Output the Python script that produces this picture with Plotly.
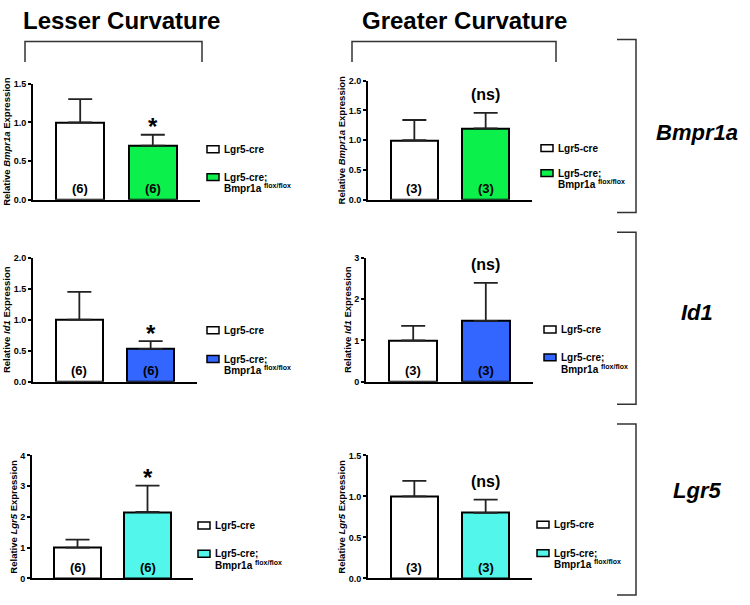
import plotly.graph_objects as go

W, H = 750, 605
FONT = "Liberation Sans, Arial, Helvetica, sans-serif"

# ---------------- data ----------------
groups = ["Lgr5-cre", "Lgr5-cre; Bmpr1a flox/flox"]
legend_line1 = ["Lgr5-cre", "Lgr5-cre;"]
legend_line2 = ["", "Bmpr1a <sup>flox/flox</sup>"]
regions = ["Lesser Curvature", "Greater Curvature"]
genes = ["Bmpr1a", "Id1", "Lgr5"]

bmpr1a_lesser_mean = [1.00, 0.70]
bmpr1a_lesser_err = [0.30, 0.14]
bmpr1a_greater_mean = [1.00, 1.20]
bmpr1a_greater_err = [0.34, 0.26]

id1_lesser_mean = [1.00, 0.53]
id1_lesser_err = [0.45, 0.125]
id1_greater_mean = [1.00, 1.47]
id1_greater_err = [0.35, 0.92]

lgr5_lesser_mean = [1.00, 2.16]
lgr5_lesser_err = [0.26, 0.86]
lgr5_greater_mean = [1.00, 0.80]
lgr5_greater_err = [0.19, 0.16]

n_lesser = ["(6)", "(6)"]
n_greater = ["(3)", "(3)"]
sig_lesser = ["*", "*", "*"]
sig_greater = ["(ns)", "(ns)", "(ns)"]

# ---------------- styling ----------------
mutant_colors = ["#0CF04C", "#3366FF", "#52F6EA"]
ctrl_color = "#FFFFFF"


def px_x(p):
    return p / W


def px_y(p):
    return 1 - p / H


# per panel: gene index, region index, means, errs, n labels, sig label,
# pixel box (x0, x1, ytop, ybot), y max, dtick, tickformat,
# legend key (box left, row-1 centre, row-2 centre) in px
panels = [
    (0, 0, bmpr1a_lesser_mean, bmpr1a_lesser_err, n_lesser, sig_lesser[0],
     (33, 200, 80, 198), 1.5, 0.5, ".1f", (207, 146.7, 175)),
    (0, 1, bmpr1a_greater_mean, bmpr1a_greater_err, n_greater, sig_greater[0],
     (368, 532, 77, 198), 2.0, 0.5, ".1f", (541, 145.5, 171)),
    (1, 0, id1_lesser_mean, id1_lesser_err, n_lesser, sig_lesser[1],
     (33, 197, 257, 383), 2.0, 0.5, ".1f", (207, 330.7, 360)),
    (1, 1, id1_greater_mean, id1_greater_err, n_greater, sig_greater[1],
     (366, 533, 257, 383), 3.0, 1, "d", (544, 330, 358.3)),
    (2, 0, lgr5_lesser_mean, lgr5_lesser_err, n_lesser, sig_lesser[2],
     (32, 193, 458, 583), 4.0, 1, "d", (198, 529.3, 558)),
    (2, 1, lgr5_greater_mean, lgr5_greater_err, n_greater, sig_greater[2],
     (368, 532, 458, 583), 1.5, 0.5, ".1f", (537, 528.4, 557.3)),
]

fig = go.Figure()
annotations = []
shapes = []
layout_axes = {}

for k, (gi, ri, means, errs, nlab, sig, box, ymax, dtick, tfmt, leg) in enumerate(panels, start=1):
    sfx = "" if k == 1 else str(k)
    xa, ya = "x" + sfx, "y" + sfx
    colors = [ctrl_color, mutant_colors[gi]]
    for j in range(2):
        fig.add_trace(go.Bar(
            x=[groups[j]], y=[means[j]],
            name=groups[j],
            width=0.66,
            textposition="none",
            marker=dict(color=colors[j], line=dict(color="#000000", width=2)),
            error_y=dict(type="data", array=[errs[j]], arrayminus=[0], symmetric=False,
                         color="#222222", thickness=1.8, width=12),
            xaxis=xa, yaxis=ya,
            showlegend=False,
        ))
        annotations.append(dict(
            x=groups[j], y=0, xref=xa, yref=ya, text=nlab[j], showarrow=False,
            yanchor="middle", yshift=11,
            font=dict(family=FONT, size=13, color="#000", weight="bold"),
        ))
        # legend key: swatch + label
        bl, r1, r2 = leg
        cy = r1 if j == 0 else r2
        shapes.append(dict(
            type="rect", xref="paper", yref="paper",
            x0=px_x(bl), x1=px_x(bl + 12), y0=px_y(cy - 3.5), y1=px_y(cy + 3.5),
            fillcolor=colors[j], line=dict(color="#000", width=1.5),
        ))
        annotations.append(dict(
            x=px_x(bl + 15), y=px_y(cy), xref="paper", yref="paper",
            text=legend_line1[j], showarrow=False, xanchor="left", yanchor="middle",
            font=dict(family=FONT, size=10, color="#000", weight="bold"),
        ))
        if legend_line2[j]:
            annotations.append(dict(
                x=px_x(bl + 15), y=px_y(cy + 11.5), xref="paper", yref="paper",
                text=legend_line2[j], showarrow=False, xanchor="left", yanchor="middle",
                font=dict(family=FONT, size=10, color="#000", weight="bold"),
            ))
    # significance label above mutant bar
    is_star = sig == "*"
    annotations.append(dict(
        x=groups[1], y=means[1] + errs[1], xref=xa, yref=ya, text=sig, showarrow=False,
        yanchor="middle", yshift=8 if is_star else 18,
        font=dict(family=FONT, size=24 if is_star else 16, color="#000", weight="bold"),
    ))
    x0, x1, yt, yb = box
    layout_axes["xaxis" + sfx] = dict(
        domain=[px_x(x0), px_x(x1)], anchor=ya, type="category",
        range=[-0.65, 1.65], showline=True, linecolor="#000", linewidth=2,
        showticklabels=False, ticks="", showgrid=False, zeroline=False, fixedrange=True,
    )
    layout_axes["yaxis" + sfx] = dict(
        domain=[px_y(yb), px_y(yt)], anchor=xa, range=[0, ymax], dtick=dtick,
        tick0=0, tickformat=tfmt, ticks="outside", ticklen=3, tickwidth=1.5,
        tickcolor="#000", showline=True, linecolor="#000", linewidth=2,
        showgrid=False, zeroline=False, fixedrange=True,
        tickfont=dict(family=FONT, size=9, color="#000", weight="bold"),
        title=dict(text=f"Relative <i>{genes[gi]}</i> Expression", standoff=1,
                   font=dict(family=FONT, size=9.5, color="#000", weight="bold")),
    )

# region titles with brackets
title_pos = [(122, 16, 25, 202), (464, 16, 352, 556)]
for (cx, cy, bx0, bx1), txt in zip(title_pos, regions):
    annotations.append(dict(
        x=px_x(cx), y=px_y(cy), xref="paper", yref="paper", text=txt, showarrow=False,
        xanchor="center", yanchor="middle",
        font=dict(family=FONT, size=24, color="#000", weight="bold"),
    ))
    shapes.append(dict(
        type="path", xref="paper", yref="paper",
        path=f"M{px_x(bx0)},{px_y(58)} L{px_x(bx0)},{px_y(37)} L{px_x(bx1)},{px_y(37)} L{px_x(bx1)},{px_y(58)}",
        line=dict(color="#333", width=1.5),
    ))

# gene labels with right brackets
gene_pos = [(130, 35, 211), (313, 231, 406), (494, 426, 600)]
for (cy, by0, by1), g in zip(gene_pos, genes):
    annotations.append(dict(
        x=px_x(697), y=px_y(cy), xref="paper", yref="paper", text=f"<i>{g}</i>",
        showarrow=False, xanchor="center", yanchor="middle",
        font=dict(family=FONT, size=22, color="#000", weight="bold"),
    ))
    shapes.append(dict(
        type="path", xref="paper", yref="paper",
        path=f"M{px_x(617)},{px_y(by0)} L{px_x(636)},{px_y(by0)} L{px_x(636)},{px_y(by1)} L{px_x(617)},{px_y(by1)}",
        line=dict(color="#333", width=1.5),
    ))

fig.update_layout(
    width=W, height=H, margin=dict(l=0, r=0, t=0, b=0),
    paper_bgcolor="#FFFFFF", plot_bgcolor="rgba(0,0,0,0)",
    barmode="overlay", bargap=0, showlegend=False,
    font=dict(family=FONT, color="#000"),
    annotations=annotations, shapes=shapes,
    **layout_axes,
)

# remove the browser's default body margin so the 750x605 figure fills the window
fig.write_html(
    "out.html",
    config={"displayModeBar": False},
    post_script="document.body.style.margin='0';document.body.style.overflow='hidden';",
)
